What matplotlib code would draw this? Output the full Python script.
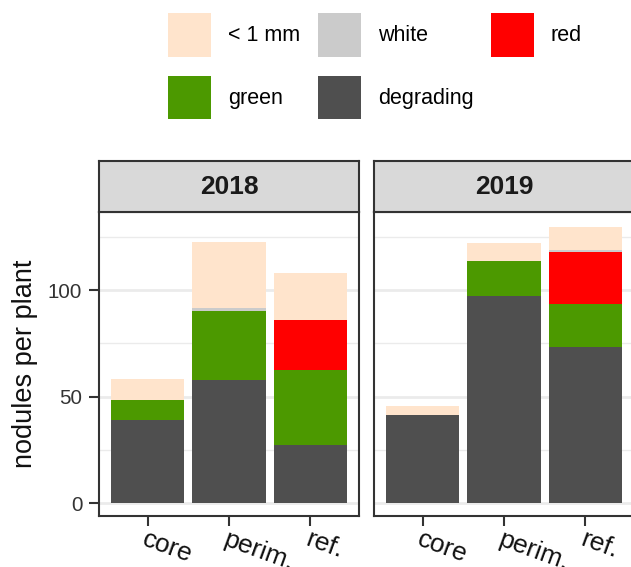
import numpy as np
import matplotlib
matplotlib.use("Agg")
import matplotlib.pyplot as plt
import matplotlib.transforms as mtransforms
from matplotlib.patches import Patch

plt.rcParams["font.family"] = ["Liberation Sans", "DejaVu Sans"]

Sites = ["core", "perim.", "ref."]
Years = ["2018", "2019"]

# stacked from the bottom: degrading, green, red, white, < 1 mm
Degrading = {"2018": [39.2, 57.7, 27.5], "2019": [41.2, 97.4, 73.3]}
Green = {"2018": [9.1, 32.3, 34.8], "2019": [0.3, 16.3, 20.4]}
Red = {"2018": [0.0, 0.0, 23.8], "2019": [0.0, 0.0, 24.4]}
White = {"2018": [0.0, 1.6, 0.0], "2019": [0.0, 0.0, 0.9]}
Small = {"2018": [10.1, 31.2, 22.1], "2019": [4.3, 8.3, 10.7]}

Categories = ["degrading", "green", "red", "white", "< 1 mm"]
Colours = {
    "degrading": "#4F4F4F",
    "green": "#4C9900",
    "red": "#FF0000",
    "white": "#CBCBCB",
    "< 1 mm": "#FFE4CC",
}
Series = {
    "degrading": Degrading,
    "green": Green,
    "red": Red,
    "white": White,
    "< 1 mm": Small,
}

W, H = 631, 567
fig = plt.figure(figsize=(W / 100, H / 100), dpi=100)

panelLefts = [99, 374]
panelWidth = 260
panelBottom = 51
panelHeight = 304
stripHeight = 51
borderCol = "#333333"

x = np.arange(1, len(Sites) + 1)
nudge = mtransforms.ScaledTranslation(3 / 100, 0, fig.dpi_scale_trans)

for i, year in enumerate(Years):
    ax = fig.add_axes([panelLefts[i] / W, panelBottom / H, panelWidth / W, panelHeight / H])
    bottom = np.zeros(len(Sites))
    for cat in Categories:
        vals = np.array(Series[cat][year])
        ax.bar(x, vals, width=0.9, bottom=bottom, color=Colours[cat], linewidth=0, zorder=3)
        bottom = bottom + vals

    ax.set_xlim(0.4, 3.6)
    ax.set_ylim(-6.0, 136.7)
    ax.set_yticks([0, 50, 100])
    ax.set_yticks([25, 75, 125], minor=True)
    ax.grid(True, which="major", axis="y", color="#EBEBEB", linewidth=2.0, zorder=0)
    ax.grid(True, which="minor", axis="y", color="#EBEBEB", linewidth=1.0, zorder=0)
    ax.tick_params(axis="y", which="minor", length=0)
    ax.set_xticks(x)
    ax.set_xticklabels(Sites, rotation=-20, ha="left", va="top",
                       rotation_mode="anchor", fontsize=19, color="#111111")
    for lab in ax.get_xticklabels():
        lab.set_transform(lab.get_transform() + nudge)
    ax.tick_params(axis="both", which="major", length=7, width=1.5, color=borderCol)
    ax.tick_params(axis="x", pad=1)
    if i == 0:
        ax.set_yticklabels(["0", "50", "100"], fontsize=14.8, color="#333333")
        ax.tick_params(axis="y", pad=5)
        ax.set_ylabel("nodules per plant", fontsize=19.5, color="#111111", labelpad=7)
    else:
        ax.tick_params(axis="y", which="major", length=0, labelleft=False)
    for spine in ax.spines.values():
        spine.set_color(borderCol)
        spine.set_linewidth(1.5)

    strip = fig.add_axes([panelLefts[i] / W, (panelBottom + panelHeight) / H,
                          panelWidth / W, stripHeight / H])
    strip.set_facecolor("#D9D9D9")
    strip.set_xticks([])
    strip.set_yticks([])
    for spine in strip.spines.values():
        spine.set_color(borderCol)
        spine.set_linewidth(1.5)
    strip.text(0.5, 0.5, year, ha="center", va="center", fontsize=19,
               fontweight="bold", color="#1A1A1A", transform=strip.transAxes)

# legend goes row-wise: < 1 mm, white, red / green, degrading
legendOrder = ["< 1 mm", "green", "white", "degrading", "red"]
handles = [Patch(facecolor=Colours[c], edgecolor="none") for c in legendOrder]
fig.legend(handles, legendOrder, ncol=3, loc="upper left",
           bbox_to_anchor=(161.5 / W, 1 - 7 / H), frameon=False,
           fontsize=15.5, handlelength=2.0, handleheight=2.7,
           handletextpad=0.8, columnspacing=0.8, labelspacing=0.9,
           borderaxespad=0, borderpad=0.3)

fig.savefig("out.png", dpi=100)
